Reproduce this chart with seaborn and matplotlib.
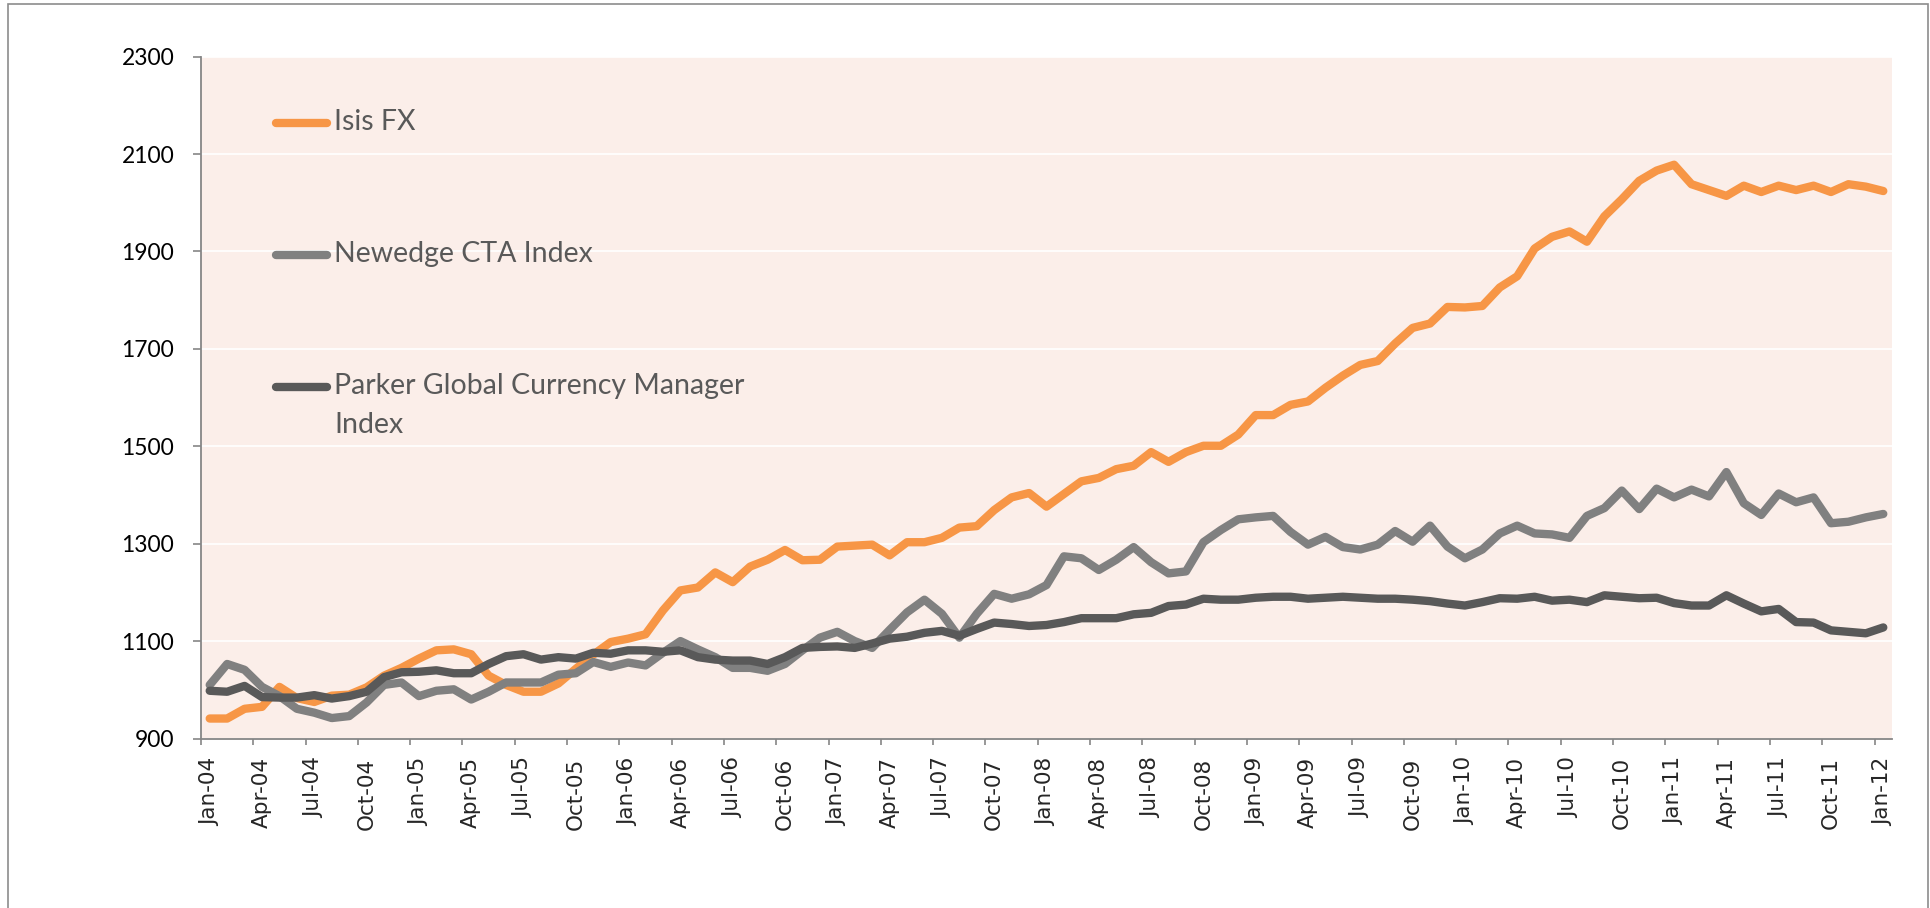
import numpy as np
import pandas as pd
import matplotlib
matplotlib.use("Agg")
import matplotlib.pyplot as plt
import seaborn as sns
from matplotlib.patches import Rectangle

# ==========================================
# DATA (monthly index values, Jan-04 .. Jan-12)
# ==========================================
isis_fx = [941, 941, 961, 965, 1006, 983, 975, 988, 990, 1005, 1029, 1045,
           1064, 1081, 1083, 1073, 1029, 1010, 996, 996, 1013, 1043, 1072, 1098,
           1105, 1114, 1163, 1204, 1210, 1241, 1221, 1253, 1267, 1287, 1266, 1267,
           1294, 1296, 1298, 1276, 1303, 1303, 1312, 1333, 1336, 1369, 1395, 1404,
           1376, 1402, 1428, 1435, 1453, 1460, 1488, 1468, 1488, 1501, 1501, 1524,
           1564, 1564, 1585, 1592, 1620, 1645, 1667, 1675, 1711, 1743, 1752, 1786,
           1785, 1788, 1826, 1849, 1906, 1930, 1941, 1920, 1972, 2007, 2045, 2066,
           2078, 2038, 2026, 2014, 2035, 2022, 2035, 2026, 2035, 2022, 2038, 2033,
           2024]
newedge_cta = [1010, 1053, 1041, 1006, 987, 961, 953, 942, 946, 974, 1010, 1015,
               987, 998, 1001, 980, 996, 1015, 1015, 1015, 1031, 1034, 1057, 1047,
               1056, 1050, 1076, 1100, 1083, 1067, 1045, 1045, 1039, 1053, 1081, 1107,
               1119, 1100, 1086, 1123, 1159, 1185, 1156, 1107, 1156, 1197, 1187, 1196,
               1215, 1274, 1270, 1246, 1267, 1293, 1262, 1239, 1243, 1303, 1328, 1350,
               1354, 1357, 1324, 1298, 1314, 1293, 1288, 1298, 1326, 1304, 1337, 1294,
               1270, 1288, 1321, 1337, 1321, 1319, 1312, 1357, 1373, 1409, 1371, 1413,
               1395, 1411, 1397, 1447, 1383, 1359, 1403, 1385, 1395, 1342, 1345, 1354,
               1361]
parker_gcm = [998, 996, 1008, 985, 984, 984, 989, 982, 987, 996, 1026, 1036,
              1037, 1040, 1034, 1034, 1053, 1069, 1073, 1062, 1067, 1064, 1076, 1074,
              1081, 1081, 1078, 1081, 1067, 1062, 1060, 1060, 1053, 1067, 1086, 1088,
              1089, 1086, 1095, 1105, 1109, 1117, 1121, 1111, 1125, 1138, 1135, 1131,
              1133, 1139, 1147, 1147, 1147, 1155, 1158, 1172, 1175, 1187, 1185, 1185,
              1189, 1191, 1191, 1187, 1189, 1191, 1189, 1187, 1187, 1185, 1182, 1177,
              1173, 1180, 1188, 1187, 1191, 1183, 1185, 1180, 1194, 1191, 1188, 1189,
              1178, 1173, 1173, 1194, 1177, 1161, 1166, 1139, 1138, 1122, 1119, 1116,
              1128]

series_names = ["Isis FX", "Newedge CTA Index", "Parker Global Currency Manager\nIndex"]
series_colors = ["#F79646", "#808080", "#595959"]

tick_labels = ["Jan-04", "Apr-04", "Jul-04", "Oct-04", "Jan-05", "Apr-05", "Jul-05", "Oct-05",
               "Jan-06", "Apr-06", "Jul-06", "Oct-06", "Jan-07", "Apr-07", "Jul-07", "Oct-07",
               "Jan-08", "Apr-08", "Jul-08", "Oct-08", "Jan-09", "Apr-09", "Jul-09", "Oct-09",
               "Jan-10", "Apr-10", "Jul-10", "Oct-10", "Jan-11", "Apr-11", "Jul-11", "Oct-11",
               "Jan-12"]
y_ticks = [900, 1100, 1300, 1500, 1700, 1900, 2100, 2300]

# long-form table for seaborn
n = len(isis_fx)
month_idx = np.arange(n)
df = pd.concat([
    pd.DataFrame({"month": month_idx, "value": vals, "series": name})
    for name, vals in zip(series_names, [isis_fx, newedge_cta, parker_gcm])
], ignore_index=True)

# ==========================================
# PLOT
# ==========================================
sns.set_style("white")
plt.rcParams["font.family"] = ["Lato", "DejaVu Sans"]

LW = 6

fig = plt.figure(figsize=(19.3, 9.08), dpi=100)
ax = fig.add_axes([201 / 1930, (908 - 738.5) / 908, 1691 / 1930, 681.9 / 908])
ax.set_facecolor("#FBEEE9")

sns.lineplot(data=df, x="month", y="value", hue="series", palette=series_colors,
             linewidth=LW, solid_capstyle="round", solid_joinstyle="round",
             legend=False, ax=ax, zorder=3)

ax.set_xlim(-0.5, n - 0.5)
ax.set_ylim(900, 2300)
ax.set_xlabel("")
ax.set_ylabel("")

# y axis
ax.set_yticks(y_ticks)
ax.set_yticklabels([str(v) for v in y_ticks], fontsize=16.5, color="black")
ax.tick_params(axis="y", length=5.8, width=1.2, color="#868686", pad=13.5, left=True)
ax.yaxis.grid(True, color="white", linewidth=1.2)
ax.set_axisbelow(True)

# x axis: labels on month centres, ticks on boundaries every quarter
ax.set_xticks(month_idx[::3])
ax.set_xticklabels(tick_labels, rotation=90, fontsize=15.5)
ax.tick_params(axis="x", which="major", length=0, pad=13.5,
               labelfontfamily="DejaVu Sans")
ax.set_xticks(np.arange(-0.5, n - 1, 3), minor=True)
ax.tick_params(axis="x", which="minor", length=4.3, width=1.2, color="#868686", bottom=True)

for side in ["top", "right"]:
    ax.spines[side].set_visible(False)
for side in ["left", "bottom"]:
    ax.spines[side].set_color("#868686")
    ax.spines[side].set_linewidth(1.3)

# legend drawn inside the plot area, stacked with wide gaps
legend_y = [0.9026, 0.709, 0.5155]
for name, color, ly in zip(series_names, series_colors, legend_y):
    ax.plot([0.0444, 0.0745], [ly, ly], transform=ax.transAxes, color=color,
            linewidth=LW, solid_capstyle="round", clip_on=False, zorder=4)
    ax.text(0.0787, ly + 0.021, name, transform=ax.transAxes, va="top", ha="left",
            fontsize=20.5, color="#595959", linespacing=1.65)

# outer chart frame
fig.add_artist(Rectangle((8 / 1930, -0.02), 1920 / 1930, 1.02 - 4 / 908,
                         transform=fig.transFigure, fill=False,
                         edgecolor="#8c8c8c", linewidth=1.2))

fig.savefig("out.png", dpi=100)
